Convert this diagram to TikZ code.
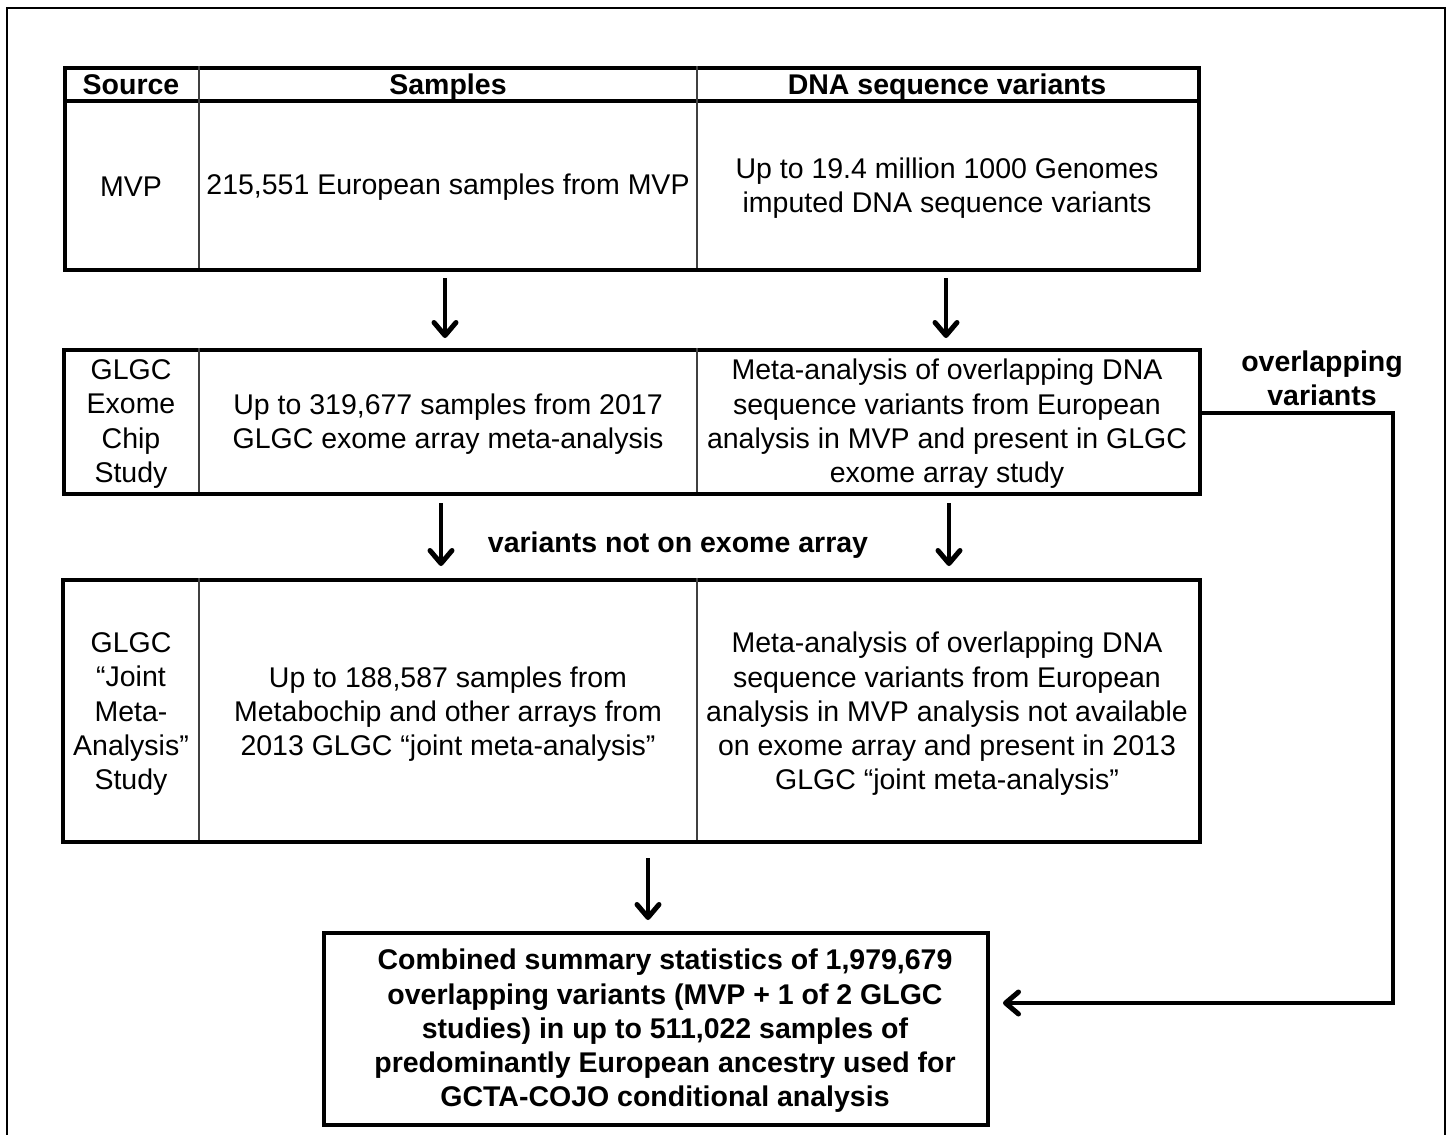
\documentclass[tikz,border=0pt]{standalone}
\usepackage{fontspec}
\setmainfont{Liberation Sans}
\usetikzlibrary{arrows.meta}
\begin{document}
\begin{tikzpicture}[x=1pt,y=-1pt,
  txt/.style={align=center, inner sep=0pt, font=\fontsize{28.5}{34.3}\selectfont},
  btxt/.style={align=center, inner sep=0pt, font=\fontsize{28.5}{34.3}\selectfont\bfseries},
  tbox/.style={draw, line width=4pt, inner sep=0pt, anchor=north west},
  colrule/.style={line width=1.5pt, black!75},
  headrule/.style={line width=3.5pt},
  arrtip/.tip={Straight Barb[length=13pt,width=22pt,line width=5pt,round]},
  arr/.style={line width=3.5pt, -arrtip},
  frame/.style={line width=2pt}
]
\useasboundingbox (0,0) rectangle (1452,1135);
\draw[frame] (7,1150) -- (7,8) -- (1445,8) -- (1445,1150);

% table 1
\node[tbox, minimum width=1134pt, minimum height=202pt] (t1) at (63,66) {};
\draw[headrule] (63,101) -- (1197,101);
\draw[colrule] (199,66) -- (199,268);
\draw[colrule] (697,66) -- (697,268);
\node[btxt, anchor=base] (h1) at (131,94) {Source};
\node[btxt, anchor=base] (h2) at (448,94) {Samples};
\node[btxt, anchor=base] (h3) at (947,94) {DNA sequence variants};
\node[txt] (r1a) at (131,187) {MVP};
\node[txt] (r1b) at (448,187) {215,551 European samples from MVP};
\node[txt] (r1c) at (947,188) {Up to 19.4 million 1000 Genomes\\imputed DNA sequence variants};

% table 2
\node[tbox, minimum width=1136pt, minimum height=144pt] (t2) at (62,348) {};
\draw[colrule] (199,348) -- (199,492);
\draw[colrule] (697,348) -- (697,492);
\node[txt] (r2a) at (131,424) {GLGC\\Exome\\Chip\\Study};
\node[txt] (r2b) at (448,424) {Up to 319,677 samples from 2017\\GLGC exome array meta-analysis};
\node[txt] (r2c) at (947,424) {Meta-analysis of overlapping DNA\\sequence variants from European\\analysis in MVP and present in GLGC\\exome array study};

% table 3
\node[tbox, minimum width=1137pt, minimum height=262pt] (t3) at (61,578) {};
\draw[colrule] (199,578) -- (199,840);
\draw[colrule] (697,578) -- (697,840);
\node[txt] (r3a) at (131,714) {GLGC\\“Joint\\Meta-\\Analysis”\\Study};
\node[txt] (r3b) at (448,714) {Up to 188,587 samples from\\Metabochip and other arrays from\\2013 GLGC “joint meta-analysis”};
\node[txt] (r3c) at (947,714) {Meta-analysis of overlapping DNA\\sequence variants from European\\analysis in MVP analysis not available\\on exome array and present in 2013\\GLGC “joint meta-analysis”};

% bottom box
\node[tbox, minimum width=664pt, minimum height=192pt] (b4) at (322,931) {};
\node[btxt] (b4t) at (665,1031) {Combined summary statistics of 1,979,679\\overlapping variants (MVP + 1 of 2 GLGC\\studies) in up to 511,022 samples of\\predominantly European ancestry used for\\GCTA-COJO conditional analysis};

% labels
\node[btxt] (lab1) at (678,545) {variants not on exome array};
\node[btxt] (lab2) at (1322,378) {overlapping\\variants};

% arrows
\coordinate (a1s) at (445,278); \coordinate (a1e) at (445,338);
\coordinate (a2s) at (946,278); \coordinate (a2e) at (946,338);
\coordinate (a3s) at (441,503); \coordinate (a3e) at (441,566);
\coordinate (a4s) at (949,503); \coordinate (a4e) at (949,566);
\coordinate (a5s) at (648,858); \coordinate (a5e) at (648,920);
\draw[arr] (a1s) -- (a1e);
\draw[arr] (a2s) -- (a2e);
\draw[arr] (a3s) -- (a3e);
\draw[arr] (a4s) -- (a4e);
\draw[arr] (a5s) -- (a5e);

% side connector
\coordinate (c1) at (1393,413);
\coordinate (c2) at (1393,1003);
\coordinate (c3) at (1003,1003);
\draw[arr] (t2.north east |- c1) -- (c1) -- (c2) -- (c3);
\end{tikzpicture}
\end{document}
